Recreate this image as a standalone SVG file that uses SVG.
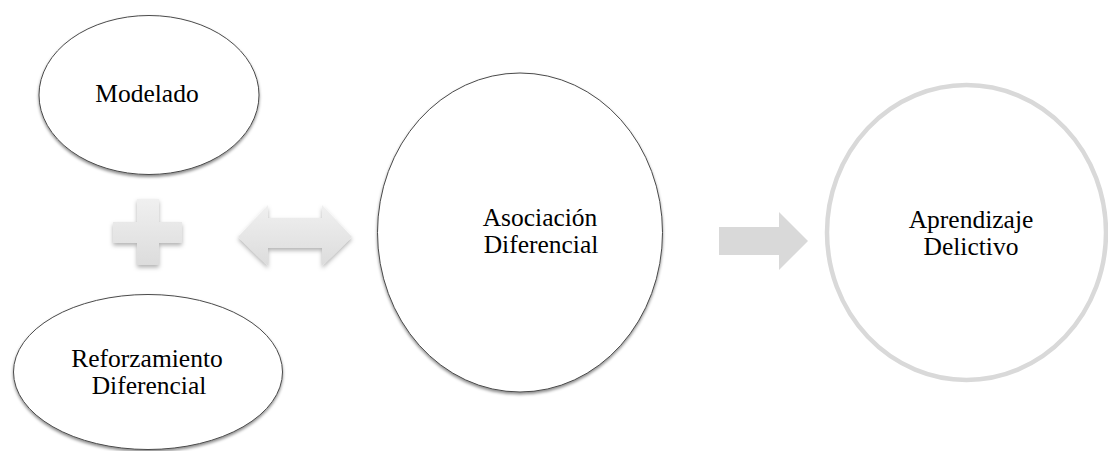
<svg xmlns="http://www.w3.org/2000/svg" width="1108" height="451" viewBox="0 0 1108 451">
  <defs>
    <filter id="soft" x="-20%" y="-20%" width="140%" height="140%">
      <feDropShadow dx="0" dy="2" stdDeviation="1.8" flood-color="#000" flood-opacity="0.45"/>
    </filter>
    <filter id="shapeShadow" x="-20%" y="-20%" width="140%" height="150%">
      <feDropShadow dx="0" dy="2.5" stdDeviation="2" flood-color="#000" flood-opacity="0.3"/>
    </filter>
    <linearGradient id="grey" x1="0" y1="0" x2="0" y2="1">
      <stop offset="0" stop-color="#f0f0f0"/>
      <stop offset="1" stop-color="#dcdcdc"/>
    </linearGradient>
  </defs>
  <style>
    .oval { fill: #ffffff; stroke: #4a4a4a; stroke-width: 1; filter: url(#soft); }
    .ring { fill: #ffffff; stroke: #d9d9d9; stroke-width: 4.5; }
    .label { font-size: 25.5px; fill: #000; text-anchor: middle; }
    .sym { fill: url(#grey); filter: url(#shapeShadow); }
    .flow { fill: #d9d9d9; }
  </style>

  <rect width="1108" height="451" fill="#ffffff"/>

  <!-- operators and arrows between the nodes -->
  <g id="connectors">
    <!-- plus sign -->
    <path class="sym" d="M137,199 H159 V222 H182 V243 H159 V265 H137 V243 H113 V222 H137 Z"/>
    <!-- two-way arrow -->
    <path class="sym" d="M238,237 L268,205 V218 H322 V205 L352,237 L322,266 V248 H268 V266 Z"/>
    <!-- one-way arrow -->
    <path class="flow" d="M719,227 H779 V212 L808,241 L779,270 V255 H719 Z"/>
  </g>

  <g font-family="'Liberation Serif', Tinos, 'DejaVu Serif', 'Times New Roman', serif">
    <g id="modelado">
      <ellipse class="oval" cx="149" cy="95" rx="110" ry="79.5"/>
      <text class="label" x="147" y="102">Modelado</text>
    </g>

    <g id="reforzamiento">
      <ellipse class="oval" cx="148" cy="372" rx="134.5" ry="77.5"/>
      <text class="label" x="147" y="367">Reforzamiento</text>
      <text class="label" x="149" y="394">Diferencial</text>
    </g>

    <g id="asociacion">
      <ellipse class="oval" cx="520" cy="232.5" rx="142.5" ry="159.5"/>
      <text class="label" x="540" y="226">Asociación</text>
      <text class="label" x="541" y="253">Diferencial</text>
    </g>

    <g id="aprendizaje">
      <ellipse class="ring" cx="966.5" cy="232.5" rx="139.5" ry="147.5"/>
      <text class="label" x="971" y="228">Aprendizaje</text>
      <text class="label" x="971" y="255">Delictivo</text>
    </g>
  </g>
</svg>
